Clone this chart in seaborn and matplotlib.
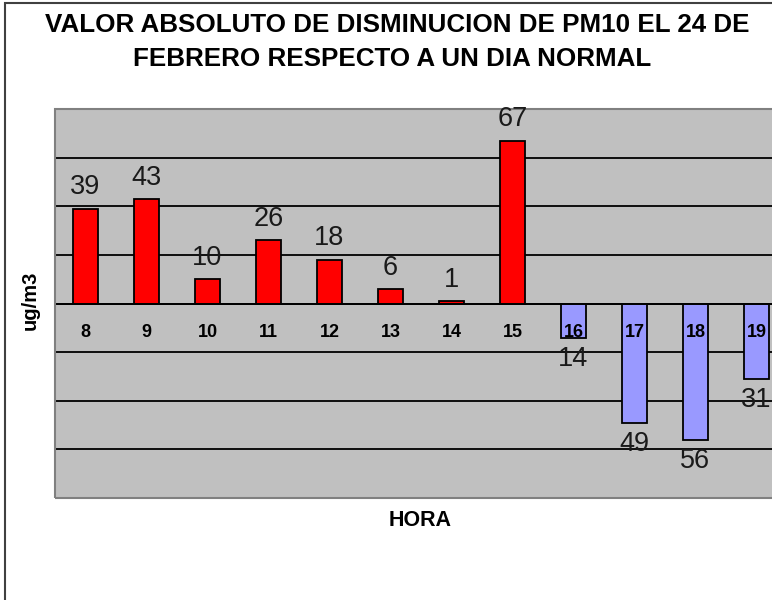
import numpy as np
import pandas as pd
import seaborn as sns
import matplotlib
matplotlib.use('Agg')
import matplotlib.pyplot as plt
from matplotlib.patches import Rectangle

# data
horas = ['8', '9', '10', '11', '12', '13', '14', '15', '16', '17', '18', '19']
disminucion = [39, 43, 10, 26, 18, 6, 1, 67, -14, -49, -56, -31]

rojo = '#FF0000'
lila = '#9999FF'

sns.set_style('white')
plt.rcParams['font.family'] = ['Liberation Sans', 'DejaVu Sans']
plt.rcParams['text.color'] = 'black'
plt.rcParams['xtick.color'] = 'black'

df = pd.DataFrame({'hora': horas, 'valor': disminucion})
colores = [rojo if v >= 0 else lila for v in disminucion]

fig = plt.figure(figsize=(7.72, 6.0), dpi=100)
W, H = 772, 600
ax = fig.add_axes([55 / W, 1 - 498 / H, 732 / W, 389 / H])
ax.set_facecolor('#C0C0C0')

sns.barplot(data=df, x='hora', y='valor', hue='hora', palette=colores,
            legend=False, width=0.41, edgecolor='black', linewidth=1.3,
            saturation=1, ax=ax, order=horas, hue_order=horas, zorder=2)

ax.set_xlim(-0.5, 11.5)
ax.set_ylim(-80, 80)

# gridlines behind bars
for y in np.arange(-60, 61, 20):
    ax.axhline(y, color='black', linewidth=1.3, zorder=1)
ax.set_yticks([])

# axis at zero, hour labels drawn over the bars
for s in ['left', 'right', 'top']:
    ax.spines[s].set_visible(False)
ax.spines['bottom'].set_position(('data', 0))
ax.spines['bottom'].set_color('black')
ax.spines['bottom'].set_linewidth(1.3)
ax.spines['bottom'].set_zorder(3)
ax.xaxis.set_zorder(4)
ax.set_xticks(np.arange(-0.5, 12, 1))
ax.set_xticklabels([])
ax.set_xticks(range(len(horas)), minor=True)
ax.set_xticklabels(horas, minor=True, fontweight='bold', fontsize=13, color='black')
ax.tick_params(axis='x', which='major', direction='out', length=5, width=1.3, color='black')
ax.tick_params(axis='x', which='minor', length=0, pad=15)

# plot area border
ax.add_patch(Rectangle((0, 0), 1, 1, transform=ax.transAxes, fill=False,
                       edgecolor='#808080', linewidth=1.5, zorder=5, clip_on=False))

# value labels
for i, v in enumerate(disminucion):
    if v >= 0:
        ax.annotate(str(abs(v)), xy=(i, v), xytext=(0, 6), textcoords='offset points',
                    ha='center', va='bottom', fontsize=19.5, color='#1a1a1a', zorder=6)
    else:
        ax.annotate(str(abs(v)), xy=(i, v), xytext=(0, -6), textcoords='offset points',
                    ha='center', va='top', fontsize=19.5, color='#1a1a1a', zorder=6)

ax.set_xlabel('')
ax.set_ylabel('')
fig.text(420 / W, 1 - 520 / H, 'HORA', ha='center', va='center',
         fontweight='bold', fontsize=15.5)
fig.text(30 / W, 1 - 300 / H, 'ug/m3', ha='center', va='center', rotation=90,
         fontweight='bold', fontsize=14.5)

fig.text(397 / W, 1 - 25 / H, 'VALOR ABSOLUTO DE DISMINUCION DE PM10 EL 24 DE',
         ha='center', va='center', fontweight='bold', fontsize=18.7)
fig.text(392 / W, 1 - 59 / H, 'FEBRERO RESPECTO A UN DIA NORMAL',
         ha='center', va='center', fontweight='bold', fontsize=18.7)

# outer chart frame
fig.patches.append(Rectangle((5 / W, -0.05), 1.0, 1.05 - 3 / H, transform=fig.transFigure,
                             fill=False, edgecolor='#404040', linewidth=1.5))

fig.savefig('out.png', dpi=100)
